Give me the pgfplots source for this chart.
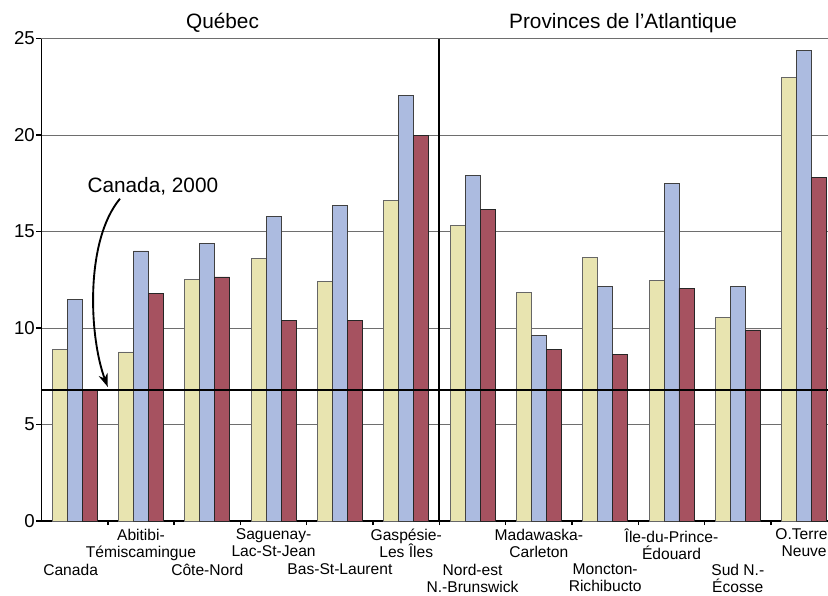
\documentclass[border=0pt]{standalone}
\usepackage{pgfplots}
\pgfplotsset{compat=1.18}
\usepackage{fontspec}
\setmainfont{Liberation Sans}
\usetikzlibrary{arrows.meta}
\definecolor{cYel}{RGB}{232,228,176}
\definecolor{cBlu}{RGB}{172,187,224}
\definecolor{cRed}{RGB}{166,82,96}
\definecolor{cGrid}{RGB}{110,110,110}
\begin{document}
\begin{tikzpicture}
\begin{axis}[
  scale only axis,
  width=589.9pt, height=361.9pt,
  xmin=-0.5, xmax=11.36, ymin=0, ymax=25,
  axis x line=bottom, axis y line=left,
  axis line style={line width=1.3pt, -},
  clip=false,
  ytick={0,5,10,15,20,25},
  ymajorgrids,
  major grid style={cGrid, line width=0.8pt},
  tick align=outside,
  major tick length=3.75pt, minor tick length=3pt,
  tick style={black, line width=1.1pt},
  /pgf/number format/assume math mode=true,
  yticklabel style={font=\fontsize{14}{16}\selectfont, inner sep=1pt},
  xtick={1,3,5,7,9,11},
  xticklabels={{Abitibi-\\Témiscamingue},{Saguenay-\\Lac-St-Jean},{Gaspésie-\\Les Îles},{Madawaska-\\Carleton},{Île-du-Prince-\\Édouard},{O.Terre\hspace*{4pt}\\Neuve}},
  major x tick style={draw=none},
  minor xtick={0.5,1.5,2.5,3.5,4.5,5.5,6.5,7.5,8.5,9.5,10.5},
  extra x ticks={0,2,4,6,8,10},
  extra x tick labels={Canada\hspace*{6pt},Côte-Nord,Bas-St-Laurent,{Nord-est\\N.-Brunswick},{Moncton-\\Richibucto},{Sud N.-\\Écosse}},
  extra x tick style={major tick length=0pt, xticklabel style={yshift=-30pt}},
  xticklabel style={font=\fontsize{11.7}{12.75}\selectfont, align=center, anchor=north, inner sep=1pt, yshift=-1pt},
]
\addplot[ybar, bar width=0.226, bar shift=-0.226, fill=cYel, draw=black!60, line width=0.5pt]
  coordinates {(0,8.9) (1,8.76) (2,12.5) (3,13.6) (4,12.4) (5,16.6) (6,15.3) (7,11.85) (8,13.65) (9,12.45) (10,10.55) (11,23.0)};
\addplot[ybar, bar width=0.226, bar shift=0, fill=cBlu, draw=black!75, line width=0.5pt]
  coordinates {(0,11.5) (1,14.0) (2,14.4) (3,15.8) (4,16.35) (5,22.05) (6,17.9) (7,9.6) (8,12.15) (9,17.5) (10,12.15) (11,24.4)};
\addplot[ybar, bar width=0.226, bar shift=0.226, fill=cRed, draw=black!85, line width=0.5pt]
  coordinates {(0,6.8) (1,11.8) (2,12.65) (3,10.4) (4,10.4) (5,20.0) (6,16.15) (7,8.9) (8,8.65) (9,12.05) (10,9.9) (11,17.8)};
\draw[line width=1.5pt] (axis cs:-0.5,6.8) -- (axis cs:11.36,6.8);
\draw[line width=1.4pt] (axis cs:5.5,0) -- (axis cs:5.5,25);
\node[font=\fontsize{15.6}{18}\selectfont] at (axis cs:2.23,25.8) {Québec};
\node[font=\fontsize{15.6}{18}\selectfont] at (axis cs:8.27,25.8) {Provinces de l’Atlantique};
\node[font=\fontsize{15.6}{18}\selectfont] at (axis cs:1.18,17.33) {Canada, 2000};
\draw[line width=1.4pt, -{Stealth[length=10pt,width=7pt]}] (axis cs:0.684,16.7) .. controls (axis cs:0.15,14.5) and (axis cs:0.22,9.5) .. (axis cs:0.5,6.95);
\end{axis}
\pgfresetboundingbox
\path[use as bounding box] ([shift={(-31.1pt,-55.5pt)}]current axis.south west) rectangle ([shift={(0pt,28.9pt)}]current axis.north east);
\end{tikzpicture}
\end{document}
